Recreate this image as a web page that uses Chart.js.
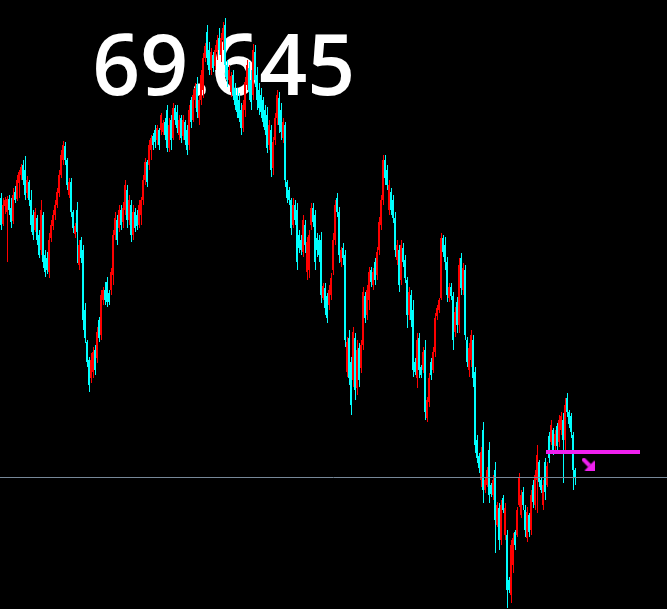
<!DOCTYPE html>
<html><head><meta charset="utf-8">
<script src="https://cdn.jsdelivr.net/npm/chart.js@4.4.0/dist/chart.umd.min.js"></script>
<style>html,body{margin:0;padding:0;background:#000;overflow:hidden}canvas{display:block}</style>
</head><body>
<canvas id="c" width="667" height="609"></canvas>
<script>
// ---- data (price per bar, oldest first) ----
const opens = [
72.44,72.18,72.36,72.30,72.43,72.34,72.21,72.50,72.43,72.59,
72.67,72.77,72.72,72.49,72.60,72.42,72.27,72.12,72.24,72.07,
71.92,72.27,71.87,71.84,71.70,72.04,72.16,72.27,72.37,72.49,
72.67,72.82,72.96,72.82,72.47,72.60,72.30,72.08,72.32,71.77,
72.02,71.92,71.32,71.00,70.82,70.64,70.70,70.92,70.84,71.22,
71.07,71.42,71.52,71.60,71.49,71.52,71.67,72.07,72.22,72.14,
72.32,72.20,72.32,72.52,72.22,72.37,72.07,72.30,72.27,72.17,
72.27,72.42,72.62,72.80,72.77,72.92,73.06,73.12,73.02,73.12,
73.12,73.10,73.20,73.32,72.94,73.22,73.04,73.34,73.30,73.07,
73.24,73.06,73.20,73.12,72.97,73.42,73.22,73.42,73.57,73.24,
73.42,73.52,73.84,74.10,73.92,73.72,73.87,73.76,73.90,74.04,
73.87,74.02,74.17,73.77,73.62,73.50,73.67,73.54,73.47,73.42,
73.32,73.14,73.32,73.57,73.74,73.62,73.47,73.90,73.67,73.52,
73.47,73.42,73.32,73.27,72.97,73.12,72.74,73.02,73.24,73.44,
73.32,73.04,73.17,72.60,72.52,72.42,72.17,72.37,72.32,72.07,
72.02,71.90,72.17,71.70,71.72,72.17,72.34,72.27,72.04,72.02,
72.02,71.44,71.54,71.46,71.37,71.47,71.72,72.02,72.44,72.30,
71.80,71.94,71.87,70.70,71.04,70.80,70.62,71.04,70.54,70.94,
70.74,70.97,71.46,71.27,71.42,71.72,71.57,71.80,71.67,71.92,
72.17,72.42,72.82,72.72,72.32,72.50,72.42,72.24,71.82,71.92,
71.62,71.94,71.82,71.62,71.27,71.47,71.32,70.80,70.64,71.04,
70.75,70.72,70.92,70.24,70.40,70.80,70.72,70.90,71.26,71.32,
71.44,72.04,71.97,71.80,71.44,71.55,71.46,71.10,71.40,71.17,
71.84,71.52,71.72,71.02,70.72,70.82,71.02,70.70,70.02,69.86,
69.62,70.12,69.52,69.57,69.92,69.57,69.47,69.72,69.17,69.34,
69.02,69.44,69.07,69.07,68.62,68.47,68.77,69.10,69.07,69.37,
69.27,69.50,69.32,69.04,69.27,69.12,69.57,69.37,69.62,69.80,
69.62,69.37,69.80,69.57,70.06,70.00,70.12,69.96,70.16,70.00,
70.12,70.22,70.02,70.44,70.30,70.26,70.07,69.72];
const highs = [
72.49,72.44,72.45,72.46,72.47,72.44,72.54,72.56,72.67,72.72,
72.78,72.82,72.86,72.66,72.62,72.52,72.32,72.34,72.27,72.12,
72.42,72.30,71.92,71.90,72.09,72.22,72.32,72.42,72.54,72.72,
72.92,73.01,73.00,72.84,72.64,72.64,72.32,72.19,72.40,72.02,
72.05,71.97,71.39,71.02,70.85,70.89,70.95,70.97,71.15,71.25,
71.52,71.55,71.60,71.65,71.52,71.74,72.12,72.30,72.27,72.37,
72.37,72.40,72.62,72.57,72.47,72.42,72.37,72.34,72.32,72.42,
72.45,72.67,72.84,72.82,73.02,73.07,73.09,73.17,73.17,73.14,
73.29,73.22,73.24,73.37,73.24,73.27,73.39,73.37,73.37,73.27,
73.27,73.27,73.22,73.17,73.37,73.45,73.52,73.59,73.65,73.47,
73.72,73.89,73.99,74.17,74.00,73.94,73.90,73.97,74.07,74.14,
74.09,74.20,74.24,73.82,73.77,73.70,73.72,73.59,73.54,73.49,
73.39,73.42,73.65,73.82,73.80,73.72,73.98,73.97,73.75,73.59,
73.54,73.45,73.37,73.35,73.22,73.17,73.05,73.29,73.52,73.50,
73.39,73.24,73.20,72.62,72.55,72.44,72.44,72.42,72.39,72.12,
72.07,72.27,72.22,72.05,72.12,72.39,72.39,72.32,72.09,72.07,
72.10,71.59,71.59,71.49,71.57,71.69,72.09,72.42,72.49,72.35,
71.95,71.99,71.92,71.05,71.12,70.85,71.15,71.09,71.02,70.99,
71.02,71.55,71.50,71.57,71.75,71.75,71.74,71.84,71.95,72.25,
72.47,72.87,72.87,72.77,72.62,72.54,72.47,72.30,72.02,71.97,
72.02,71.99,71.87,71.65,71.55,71.52,71.42,70.84,71.09,71.09,
70.77,70.95,71.02,70.45,70.69,70.84,70.95,71.29,71.37,71.44,
72.09,72.07,72.05,71.85,71.59,71.59,71.50,71.35,71.45,71.84,
71.89,71.79,71.77,71.05,70.99,71.12,71.07,70.75,70.07,69.89,
69.95,70.20,69.65,69.75,70.00,69.59,69.67,69.80,69.40,69.39,
69.42,69.47,69.39,69.12,68.65,69.02,69.09,69.12,69.35,69.69,
69.52,69.55,69.37,69.35,69.29,69.52,69.62,69.72,69.97,69.82,
69.65,69.62,69.84,69.80,70.10,70.22,70.14,70.12,70.19,70.27,
70.30,70.29,70.44,70.49,70.32,70.29,70.10,69.74];
const lows = [
72.12,72.16,72.28,71.80,72.27,72.14,72.18,72.39,72.41,72.44,
72.62,72.57,72.42,72.44,72.36,72.10,72.02,72.10,71.97,71.84,
71.87,71.74,71.65,71.68,71.64,72.00,72.12,72.22,72.34,72.45,
72.64,72.77,72.77,72.52,72.44,72.25,72.09,72.04,71.79,71.72,
71.79,71.12,70.99,70.75,70.50,70.59,70.64,70.67,70.79,71.00,
71.02,71.37,71.37,71.35,71.37,71.47,71.57,72.02,71.97,72.10,
72.12,72.14,72.27,72.14,72.17,72.00,72.02,72.10,72.12,72.14,
72.17,72.37,72.57,72.55,72.72,72.82,72.92,72.94,72.97,72.92,
73.07,73.07,73.02,72.90,72.90,72.92,73.02,73.17,73.09,73.02,
72.99,73.02,72.97,72.87,72.92,73.14,73.20,73.34,73.24,73.17,
73.37,73.44,73.80,73.77,73.67,73.67,73.70,73.72,73.82,73.87,
73.80,73.92,73.65,73.55,73.57,73.45,73.42,73.32,73.24,73.20,
73.07,73.10,73.25,73.52,73.42,73.32,73.42,73.55,73.32,73.27,
73.24,73.15,73.07,72.89,72.92,72.65,72.67,72.97,73.17,73.09,
73.02,72.99,72.55,72.39,72.37,72.07,72.14,72.17,71.72,71.89,
71.87,71.85,71.89,71.62,71.64,72.12,72.15,71.72,71.85,71.80,
71.39,71.42,71.27,71.19,71.32,71.42,71.67,71.97,72.25,71.79,
71.75,71.77,70.95,70.65,70.57,70.27,70.55,70.42,70.47,70.55,
70.69,70.92,71.19,71.22,71.32,71.55,71.52,71.57,71.62,71.87,
72.12,72.37,72.57,72.52,72.27,72.27,72.19,71.85,71.77,71.50,
71.57,71.75,71.59,71.14,71.22,71.15,70.65,70.67,70.54,70.64,
70.64,70.69,70.22,70.20,70.35,70.62,70.69,70.85,71.22,71.29,
71.42,71.85,71.72,71.40,71.40,71.42,70.92,71.05,71.09,71.09,
71.47,71.47,71.02,70.75,70.65,70.75,70.55,69.89,69.79,69.69,
69.55,69.39,69.49,69.55,69.39,69.45,69.42,68.89,69.15,68.92,
68.97,69.29,69.02,68.34,68.49,68.39,68.69,68.92,69.05,69.35,
69.24,69.32,69.05,69.00,69.05,69.07,69.34,69.32,69.29,69.55,
69.49,69.32,69.42,69.55,69.79,69.97,69.87,69.92,69.90,69.95,
70.07,69.59,69.92,70.25,70.14,70.04,69.52,69.57];
const closes = [
72.17,72.37,72.42,72.43,72.32,72.20,72.47,72.42,72.62,72.70,
72.75,72.62,72.47,72.62,72.42,72.17,72.07,72.30,72.02,71.87,
72.32,71.80,71.70,71.72,72.02,72.17,72.27,72.37,72.50,72.67,
72.87,72.97,72.82,72.57,72.60,72.30,72.14,72.16,72.10,71.97,
71.84,71.22,71.04,70.80,70.57,70.82,70.90,70.72,71.10,71.04,
71.47,71.52,71.42,71.40,71.40,71.70,72.07,72.24,72.02,72.32,
72.17,72.34,72.57,72.22,72.42,72.07,72.30,72.14,72.16,72.37,
72.42,72.62,72.80,72.60,72.97,73.04,72.97,73.00,73.14,72.97,
73.27,73.19,73.07,72.94,73.17,73.02,73.34,73.22,73.14,73.22,
73.04,73.22,73.02,72.92,73.32,73.20,73.47,73.54,73.30,73.42,
73.67,73.84,73.96,73.84,73.72,73.90,73.74,73.92,74.02,73.92,
74.04,74.14,73.77,73.62,73.72,73.66,73.47,73.37,73.30,73.24,
73.14,73.37,73.60,73.77,73.50,73.40,73.92,73.62,73.42,73.34,
73.30,73.20,73.12,72.94,73.17,72.72,73.00,73.24,73.47,73.17,
73.10,73.20,72.62,72.44,72.42,72.14,72.37,72.22,71.80,71.94,
71.92,72.22,71.97,72.00,72.07,72.34,72.20,71.80,71.92,71.87,
71.47,71.56,71.34,71.24,71.52,71.64,72.02,72.37,72.30,71.87,
71.92,71.84,71.02,71.00,70.64,70.37,71.10,70.52,70.92,70.62,
70.97,71.50,71.24,71.52,71.70,71.60,71.70,71.62,71.90,72.20,
72.42,72.82,72.64,72.57,72.57,72.32,72.24,71.92,71.97,71.57,
71.97,71.80,71.64,71.27,71.50,71.22,70.72,70.70,71.02,70.72,
70.67,70.90,70.30,70.42,70.64,70.67,70.90,71.24,71.34,71.42,
72.04,71.90,71.80,71.47,71.55,71.46,71.02,71.30,71.17,71.77,
71.54,71.74,71.07,70.80,70.94,71.07,70.64,69.97,69.84,69.74,
69.90,69.52,69.62,69.72,69.47,69.48,69.62,69.22,69.37,69.02,
69.37,69.32,69.34,68.52,68.52,68.97,69.04,68.97,69.32,69.64,
69.47,69.37,69.12,69.30,69.10,69.47,69.40,69.67,69.87,69.60,
69.52,69.57,69.50,69.76,69.84,70.17,69.92,70.08,69.96,70.22,
70.26,70.02,70.37,70.30,70.18,70.10,69.72,69.64];

const bidPrice = 69.645;              // current bid (gray line + big label)
const levelPrice = 69.90;             // magenta horizontal level
const levelFromBar = 272.5, levelToBar = 319.5;
const arrowBar = 293.5, arrowPrice = 69.78;

// ---- styles ----
const UP = '#FF0000', DOWN = '#00FFFF', MAGENTA = '#F020F0', BIDLINE = '#778899';
const barColors = closes.map((c, i) => c > opens[i] ? UP : DOWN);
const bodyData = opens.map((o, i) => ({x: i, y: [o, closes[i]]}));
const wickData = highs.map((h, i) => ({x: i, y: [lows[i], h]}));

// arrow marker image
const arrowImg = document.createElement('canvas');
arrowImg.width = 13; arrowImg.height = 13;
(function(){
  const a = arrowImg.getContext('2d');
  a.fillStyle = MAGENTA; a.strokeStyle = MAGENTA;
  a.lineWidth = 4;
  a.beginPath(); a.moveTo(1, 1); a.lineTo(8, 8); a.stroke();
  a.beginPath(); a.moveTo(13, 13); a.lineTo(13, 3); a.lineTo(3, 13); a.closePath(); a.fill();
})();

const labelPlugin = {
  id: 'priceLabel',
  beforeDatasetsDraw(chart) {
    const ctx = chart.ctx;
    const txt = bidPrice.toFixed(3);
    ctx.save();
    ctx.font = '600 90px "Comic Sans MS", "Open Sans", sans-serif';
    ctx.textBaseline = 'alphabetic';
    ctx.textAlign = 'left';
    const m = ctx.measureText(txt);
    const inkW = m.actualBoundingBoxLeft + m.actualBoundingBoxRight;
    const inkH = m.actualBoundingBoxAscent + m.actualBoundingBoxDescent;
    const box = {left: 96, top: 33, right: 351, bottom: 96};
    ctx.translate(box.left, box.top);
    ctx.scale((box.right - box.left) / inkW, (box.bottom - box.top) / inkH);
    ctx.fillStyle = '#FFFFFF';
    ctx.fillText(txt, m.actualBoundingBoxLeft, m.actualBoundingBoxAscent);
    ctx.restore();
  }
};

const chart = new Chart(document.getElementById('c'), {
  type: 'bar',
  data: {
    datasets: [
      {type: 'line', order: 0, data: [{x: arrowBar, y: arrowPrice}], showLine: false,
       pointStyle: arrowImg, pointRadius: 6, xAxisID: 'x', yAxisID: 'y', clip: false},
      {type: 'line', order: 1, data: [{x: levelFromBar, y: levelPrice}, {x: levelToBar, y: levelPrice}],
       borderColor: MAGENTA, borderWidth: 4, pointRadius: 0, xAxisID: 'x', yAxisID: 'y'},
      {type: 'line', order: 2, data: [{x: -0.5, y: bidPrice}, {x: 333, y: bidPrice}],
       borderColor: BIDLINE, borderWidth: 1, pointRadius: 0, xAxisID: 'x', yAxisID: 'y'},
      {order: 3, data: bodyData, backgroundColor: barColors, borderWidth: 0,
       grouped: false, barPercentage: 1, categoryPercentage: 1, inflateAmount: 0,
       xAxisID: 'x', yAxisID: 'y'},
      {order: 4, data: wickData, backgroundColor: barColors, borderWidth: 0,
       grouped: false, barPercentage: 0.5, categoryPercentage: 1, inflateAmount: 0,
       xAxisID: 'xw', yAxisID: 'y'}
    ]
  },
  options: {
    responsive: false,
    animation: false,
    devicePixelRatio: 1,
    events: [],
    layout: {padding: 0, autoPadding: false},
    plugins: {legend: {display: false}, tooltip: {enabled: false}, title: {display: false}},
    scales: {
      x: {type: 'linear', min: -0.5, max: 333, display: false, offset: false, ticks: {includeBounds: false}},
      xw: {type: 'linear', axis: 'x', min: -0.75, max: 332.75, display: false, offset: false, ticks: {includeBounds: false}},
      y: {type: 'linear', min: 68.33, max: 74.42, display: false, beginAtZero: false}
    }
  },
  plugins: [labelPlugin]
});
if (document.fonts && document.fonts.load) {
  document.fonts.load('600 90px "Open Sans"').then(() => chart.draw()).catch(() => {});
}
</script>
</body></html>
